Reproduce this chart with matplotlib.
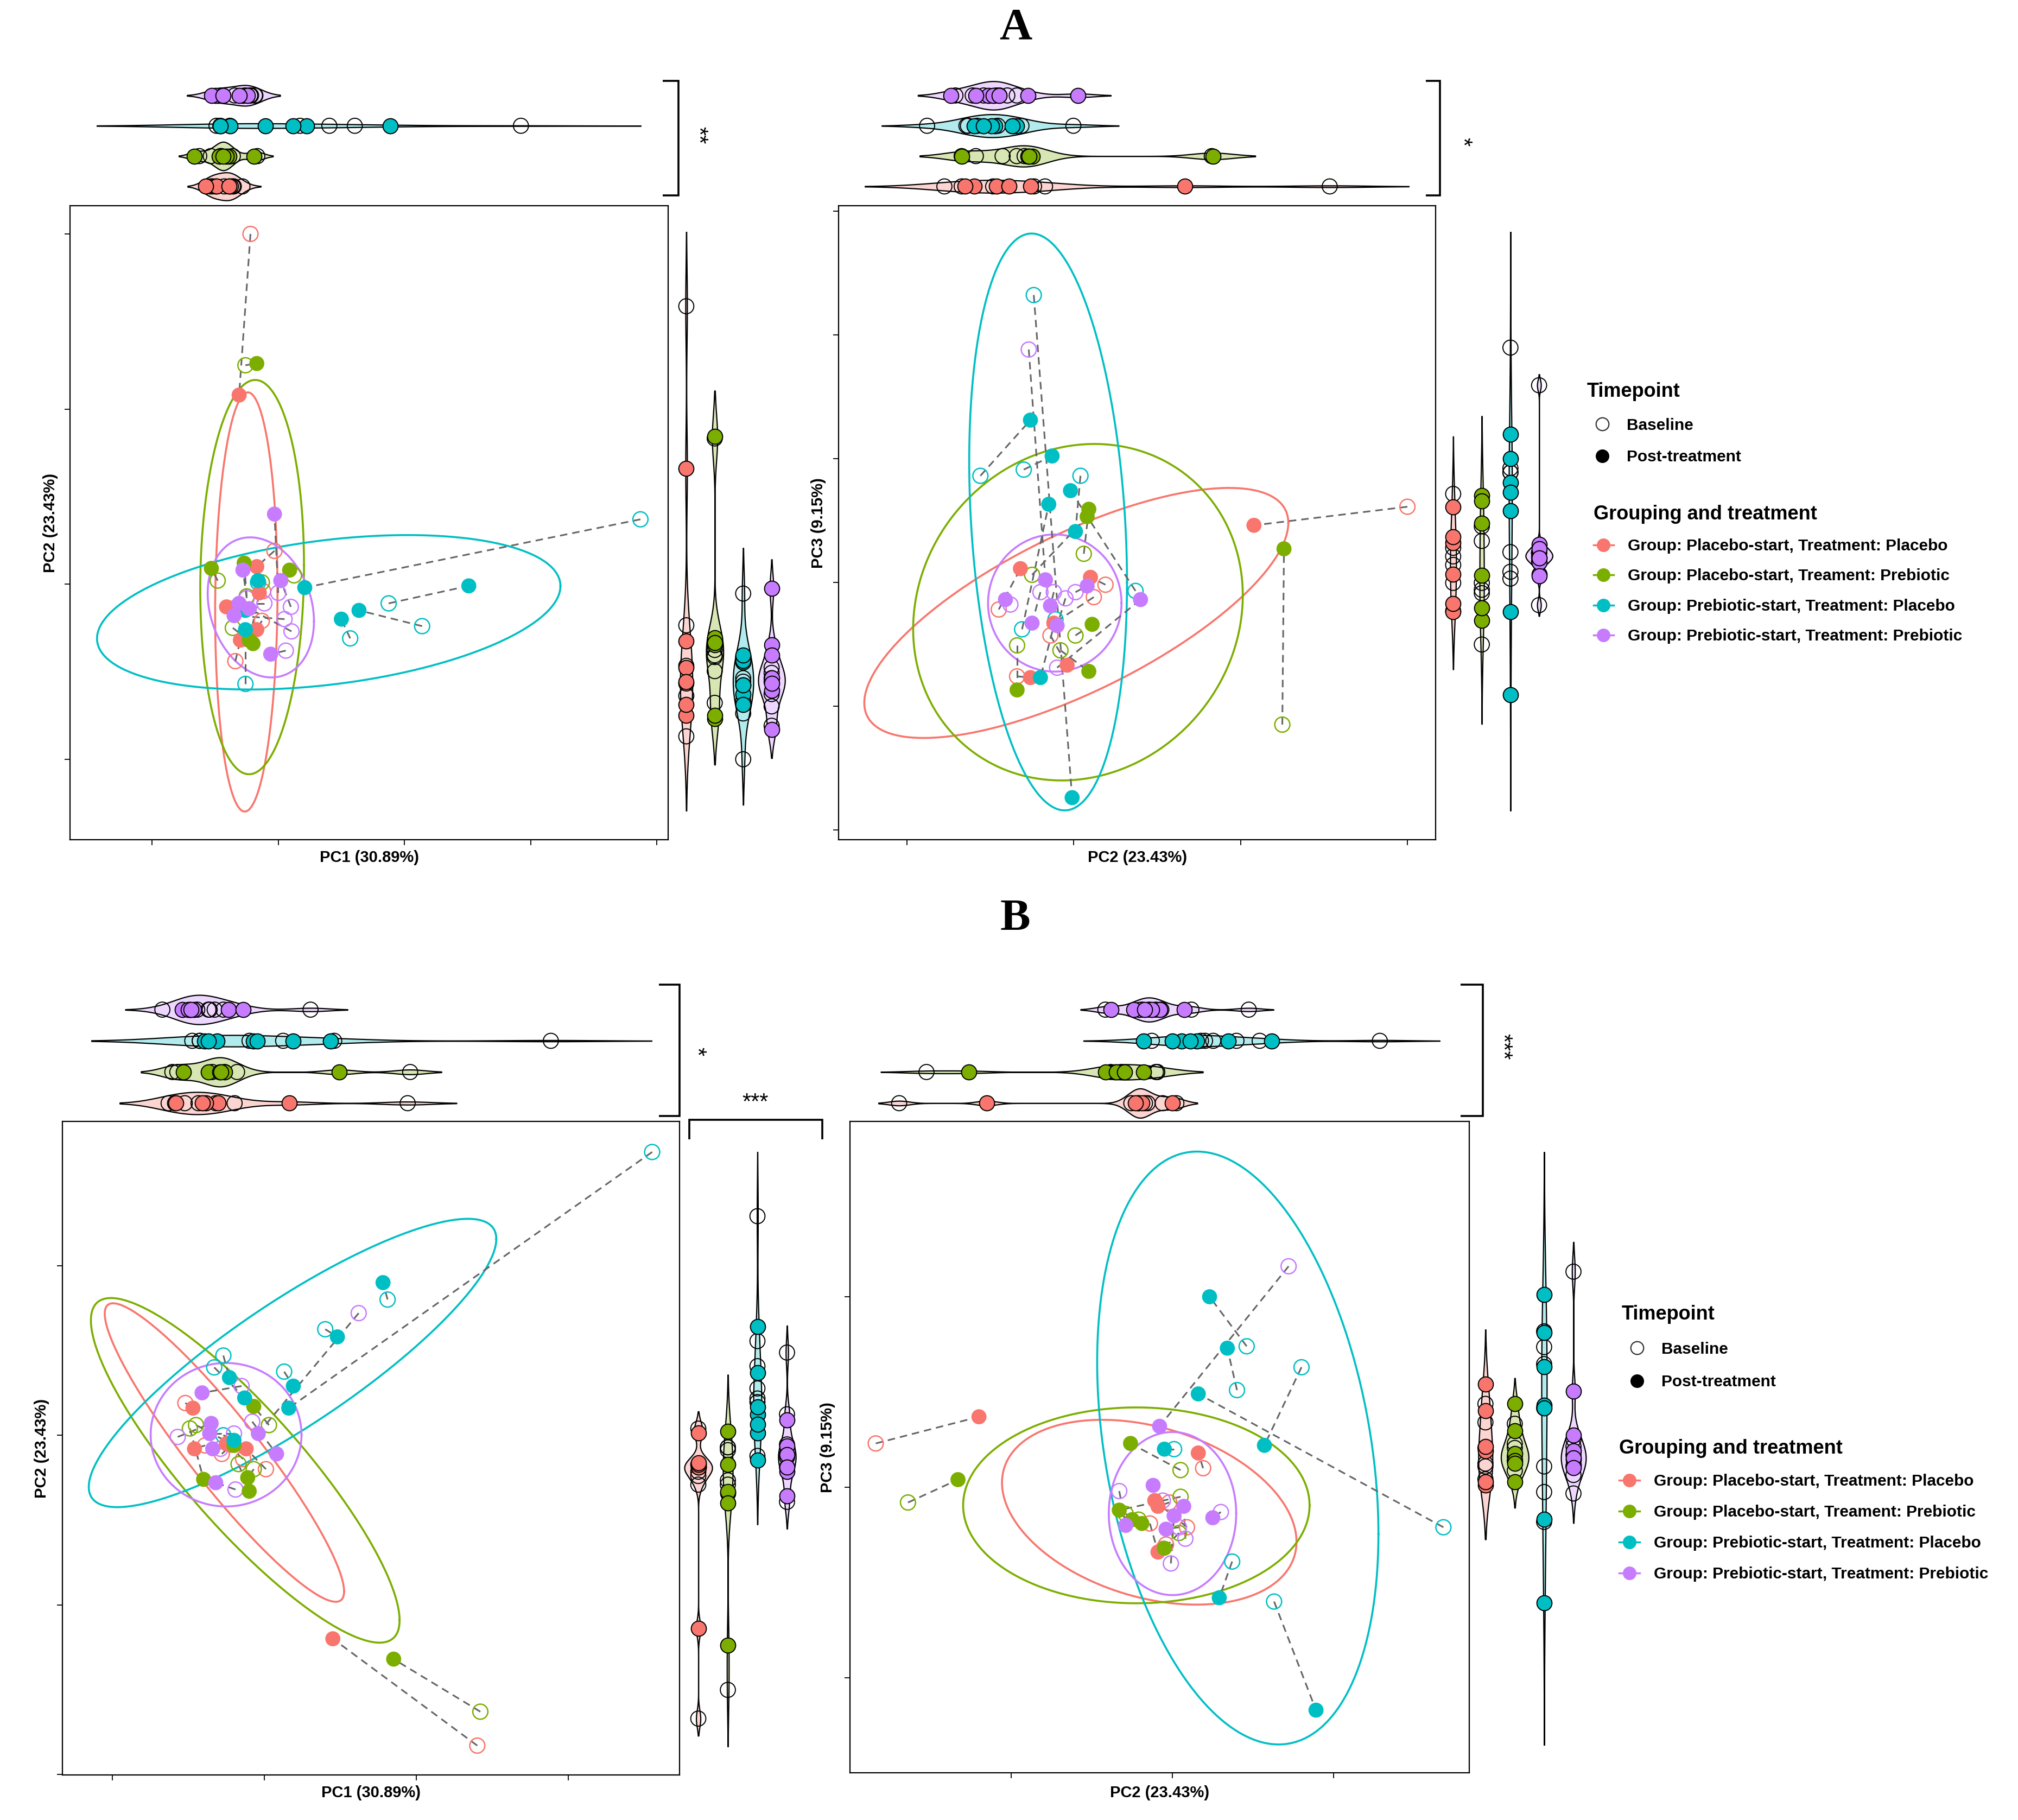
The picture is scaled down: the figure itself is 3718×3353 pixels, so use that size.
import numpy as np
import matplotlib
matplotlib.use("Agg")
import matplotlib.pyplot as plt
from matplotlib.lines import Line2D

plt.rcParams['font.family'] = ['Liberation Sans', 'DejaVu Sans']

# layout grid (reference picture scaled to 1568 x 1414)
W, H = 1568.0, 1414.0

GROUPS = ["Group: Placebo-start, Treatment: Placebo",
          "Group: Placebo-start, Treament: Prebiotic",
          "Group: Prebiotic-start, Treatment: Placebo",
          "Group: Prebiotic-start, Treatment: Prebiotic"]
COLORS = ["#F8766D", "#7CAE00", "#00BFC4", "#C77CFF"]
TIMEPOINTS = ["Baseline", "Post-treatment"]

# each row = one subject: (baseline x, baseline y, post x, post y)
# panel A left: PC1 vs PC2
A1_PLA_PLA = [(-0.22, 2.00, -0.31, 1.08), (-0.03, 0.19, -0.17, 0.10), (-0.34, -0.44, -0.30, -0.32),
              (-0.12, -0.04, -0.15, -0.05), (-0.36, -0.14, -0.41, -0.13), (-0.13, -0.21, -0.17, -0.26)]
A1_PLA_PRE = [(-0.26, 1.25, -0.17, 1.26), (0.125, 0.05, 0.09, 0.08), (-0.36, -0.25, -0.20, -0.34),
              (-0.25, -0.07, -0.27, 0.12), (-0.48, 0.02, -0.53, 0.09), (-0.13, 0.01, -0.23, -0.32)]
A1_PRE_PLA = [(2.87, 0.37, 0.21, -0.02), (0.875, -0.11, 1.51, -0.01), (1.14, -0.24, 0.64, -0.15),
              (0.57, -0.31, 0.50, -0.20), (-0.26, -0.57, -0.26, -0.26), (-0.16, 0.01, -0.16, 0.02),
              (-0.30, -0.13, -0.26, -0.15)]
A1_PRE_PRE = [(0.00, -0.05, -0.03, 0.40), (-0.25, -0.08, -0.28, 0.08), (0.10, -0.13, 0.02, 0.02),
              (-0.11, -0.11, -0.31, -0.11), (0.05, -0.20, -0.35, -0.18), (0.06, -0.38, -0.06, -0.40),
              (0.105, -0.27, -0.23, -0.14)]

# panel A right: PC2 vs PC3
A2_PLA_PLA = [(2.00, 0.61, 1.08, 0.46), (0.19, -0.02, 0.10, 0.04), (-0.34, -0.76, -0.26, -0.77),
              (0.12, -0.12, -0.12, -0.33), (-0.45, -0.22, -0.32, 0.11), (-0.14, -0.43, -0.04, -0.67)]
A2_PLA_PRE = [(1.25, -1.15, 1.26, 0.27), (0.06, 0.23, 0.09, 0.59), (-0.25, 0.06, 0.08, 0.53),
              (0.01, -0.43, 0.11, -0.34), (-0.34, -0.51, -0.34, -0.87), (-0.08, -0.55, 0.09, -0.72)]
A2_PRE_PLA = [(-0.24, 2.32, -0.01, -1.74), (-0.56, 0.86, -0.26, 1.31), (-0.30, 0.91, -0.13, 1.02),
              (0.04, 0.86, 0.01, 0.41), (0.37, -0.07, -0.02, 0.74), (-0.31, -0.38, -0.15, 0.63),
              (-0.11, -0.30, -0.20, -0.77)]
A2_PRE_PRE = [(-0.27, 1.88, -0.17, 0.02), (-0.38, -0.18, -0.41, -0.14), (-0.20, -0.08, -0.25, -0.33),
              (-0.12, -0.08, -0.14, -0.19), (-0.05, -0.13, -0.10, -0.35), (0.01, -0.08, 0.08, -0.03),
              (-0.10, -0.69, 0.40, -0.14)]

# panel B left: PC1 vs PC2
B1_PLA_PLA = [(1.40, -1.83, 0.45, -1.20), (-0.52, 0.19, -0.47, 0.16), (0.01, -0.20, -0.12, -0.08),
              (-0.39, -0.06, -0.46, -0.08), (-0.28, -0.11, -0.22, -0.06), (-0.14, -0.14, -0.25, -0.05)]
B1_PLA_PRE = [(1.42, -1.63, 0.85, -1.32), (0.03, 0.06, -0.07, 0.17), (-0.49, 0.04, -0.40, -0.26),
              (-0.45, 0.06, -0.20, -0.06), (-0.07, -0.20, -0.11, -0.25), (-0.17, -0.17, -0.10, -0.33)]
B1_PRE_PLA = [(2.55, 1.67, 0.16, 0.16), (0.81, 0.80, 0.78, 0.90), (0.40, 0.625, 0.48, 0.58),
              (0.13, 0.375, 0.19, 0.29), (-0.27, 0.47, -0.23, 0.34), (-0.33, 0.40, -0.13, 0.22),
              (-0.27, 0.00, -0.20, -0.03)]
B1_PRE_PRE = [(0.62, 0.72, -0.04, 0.01), (-0.15, 0.29, -0.41, 0.25), (-0.57, -0.01, -0.35, 0.07),
              (-0.20, 0.01, -0.36, 0.01), (-0.08, 0.08, 0.08, -0.11), (-0.19, -0.32, -0.32, -0.28),
              (-0.29, -0.08, -0.34, -0.08)]

# panel B right: PC2 vs PC3
B2_PLA_PLA = [(-1.84, 0.23, -1.20, 0.37), (0.19, 0.10, 0.16, 0.18), (-0.02, -0.08, -0.09, -0.10),
              (-0.14, -0.19, -0.09, -0.34), (-0.04, -0.30, -0.06, -0.32), (0.09, -0.21, -0.11, -0.07)]
B2_PLA_PRE = [(-1.64, -0.08, -1.33, 0.04), (0.05, 0.09, -0.26, 0.23), (0.05, -0.05, -0.33, -0.12),
              (-0.21, -0.17, -0.25, -0.17), (0.04, -0.24, -0.05, -0.32), (-0.29, -0.14, -0.19, -0.19)]
B2_PRE_PLA = [(0.46, 0.74, 0.23, 1.00), (0.40, 0.51, 0.34, 0.73), (1.68, -0.21, 0.16, 0.49),
              (0.80, 0.63, 0.57, 0.22), (0.37, -0.39, 0.29, -0.58), (0.63, -0.60, 0.89, -1.17),
              (0.01, 0.20, -0.05, 0.20)]
B2_PRE_PRE = [(0.72, 1.16, -0.08, 0.32), (-0.33, -0.02, -0.29, -0.20), (0.30, -0.13, 0.25, -0.16),
              (0.08, -0.27, 0.07, -0.10), (-0.01, -0.40, 0.01, -0.15), (-0.06, -0.07, -0.12, 0.01),
              (0.04, -0.21, -0.04, -0.22)]

# group ellipses: centre x, centre y, half width, half height, correlation
A1_ELL = [(-0.253, -0.102, 0.247, 1.197, 0.05), (-0.207, 0.040, 0.411, 1.126, 0.06),
          (0.40, -0.161, 1.836, 0.441, 0.34), (-0.138, -0.133, 0.421, 0.40, -0.2)]
A2_ELL = [(0.015, -0.248, 1.271, 1.01, 0.72), (0.025, -0.242, 0.988, 1.359, 0.10),
          (-0.154, 0.487, 0.473, 2.33, -0.21), (-0.114, -0.168, 0.40, 0.554, 0.0)]
B1_ELL = [(-0.263, -0.102, 0.787, 0.88, -0.93), (-0.126, -0.207, 1.015, 1.016, -0.87),
          (0.185, 0.426, 1.34, 0.85, 0.86), (-0.252, 0.003, 0.496, 0.423, 0.0)]
B2_ELL = [(-0.144, -0.131, 0.913, 0.485, -0.32), (-0.224, -0.095, 1.074, 0.514, 0.0),
          (0.405, 0.206, 0.872, 1.556, -0.29), (0.0, -0.138, 0.395, 0.428, 0.0)]

A1 = [A1_PLA_PLA, A1_PLA_PRE, A1_PRE_PLA, A1_PRE_PRE]
A2 = [A2_PLA_PLA, A2_PLA_PRE, A2_PRE_PLA, A2_PRE_PRE]
B1 = [B1_PLA_PLA, B1_PLA_PRE, B1_PRE_PLA, B1_PRE_PRE]
B2 = [B2_PLA_PLA, B2_PLA_PRE, B2_PRE_PLA, B2_PRE_PRE]


def rect(x0, y0, x1, y1):
    return [x0 / W, 1 - y1 / H, (x1 - x0) / W, (y1 - y0) / H]


def ellipse_xy(cx, cy, rx, ry, rho):
    t = np.linspace(0, 2 * np.pi, 300)
    return cx + rx * np.cos(t), cy + ry * (rho * np.cos(t) + np.sqrt(1 - rho ** 2) * np.sin(t))


def kde(v, adjust=1.5):
    # gaussian kernel, bw.nrd0 * adjust; tails run 3 plain bandwidths past the data
    v = np.asarray(v, float)
    sd = v.std(ddof=1)
    iqr = np.percentile(v, 75) - np.percentile(v, 25)
    lo = min(sd, iqr / 1.34) if iqr > 0 else sd
    bw = 0.9 * lo * len(v) ** -0.2
    g = np.linspace(v.min() - 3 * bw, v.max() + 3 * bw, 512)
    bw = bw * adjust
    d = np.exp(-0.5 * ((g[:, None] - v[None, :]) / bw) ** 2).sum(1) / (len(v) * bw * np.sqrt(2 * np.pi))
    return g, d


def draw_main(ax, panel, ells, xlim, ylim, xticks, yticks, xlabel, ylabel, xl_y, yl_x):
    for i, e in enumerate(ells):
        ax.plot(*ellipse_xy(*e), color=COLORS[i], lw=2.6, zorder=1)
    for grp in panel:
        for bx, by, px, py in grp:
            ax.plot([bx, px], [by, py], ls=(0, (4.5, 3)), color='#666666', lw=2.2, zorder=2)
    for i, grp in enumerate(panel):
        g = np.array(grp)
        ax.scatter(g[:, 0], g[:, 1], s=400, facecolors='none', edgecolors=COLORS[i], linewidths=1.8, zorder=3)
        ax.scatter(g[:, 2], g[:, 3], s=400, color=COLORS[i], edgecolors='none', zorder=4)
    ax.set_xlim(xlim)
    ax.set_ylim(ylim)
    ax.set_xticks(xticks)
    ax.set_yticks(yticks)
    ax.tick_params(direction='out', length=7, width=1.3, labelleft=False, labelbottom=False)
    for s in ax.spines.values():
        s.set_linewidth(1.6)
    ax.set_xlabel(xlabel, fontsize=21, fontweight='bold')
    ax.set_ylabel(ylabel, fontsize=21, fontweight='bold')
    ax.xaxis.set_label_coords(0.5, xl_y)
    ax.yaxis.set_label_coords(yl_x, 0.5)


def draw_margin(ax, panel, col, orient):
    vals = [np.array([r[col] for r in grp] + [r[col + 2] for r in grp]) for grp in panel]
    dens = [kde(v) for v in vals]
    dmax = max(d.max() for _, d in dens)
    for i, (grp, (g, d)) in enumerate(zip(panel, dens)):
        pos = i + 1
        hw = 0.47 * d / dmax
        base = [r[col] for r in grp]
        post = [r[col + 2] for r in grp]
        if orient == 'h':
            ax.fill_between(g, pos - hw, pos + hw, facecolor=(COLORS[i], 0.3), edgecolor='black', lw=1.6)
            ax.scatter(base, [pos] * len(base), s=400, facecolors='none', edgecolors='black', linewidths=1.4, zorder=3)
            ax.scatter(post, [pos] * len(post), s=400, facecolors=COLORS[i], edgecolors='black', linewidths=1.4, zorder=3)
        else:
            ax.fill_betweenx(g, pos - hw, pos + hw, facecolor=(COLORS[i], 0.3), edgecolor='black', lw=1.6)
            ax.scatter([pos] * len(base), base, s=400, facecolors='none', edgecolors='black', linewidths=1.4, zorder=3)
            ax.scatter([pos] * len(post), post, s=400, facecolors=COLORS[i], edgecolors='black', linewidths=1.4, zorder=3)
    lo = min(g.min() for g, _ in dens)
    hi = max(g.max() for g, _ in dens)
    if orient == 'h':
        ax.set_xlim(lo, hi)
        ax.set_ylim(0.5, 4.5)
    else:
        ax.set_ylim(lo, hi)
        ax.set_xlim(0.5, 4.5)
    ax.axis('off')


fig = plt.figure(figsize=(37.18, 33.53), dpi=100)

# main scatter panels
ax = fig.add_axes(rect(54.4, 160, 519.2, 652.4))
draw_main(ax, A1, A1_ELL, (-1.65, 3.09), (-1.46, 2.16), [-1, 0, 1, 2, 3], [-1, 0, 1, 2],
          "PC1 (30.89%)", "PC2 (23.43%)", -0.016, -0.02)
ax = fig.add_axes(rect(651.6, 160, 1115.6, 652.4))
draw_main(ax, A2, A2_ELL, (-1.41, 2.17), (-2.08, 3.04), [-1, 0, 1, 2], [-2, -1, 0, 1, 2, 3],
          "PC2 (23.43%)", "PC3 (9.15%)", -0.016, -0.021)
ax = fig.add_axes(rect(48.3, 871.3, 528, 1379))
draw_main(ax, B1, B1_ELL, (-1.33, 2.73), (-2.003, 1.85), [-1, 0, 1, 2], [-2, -1, 0, 1],
          "PC1 (30.89%)", "PC2 (23.43%)", -0.016, -0.021)
ax = fig.add_axes(rect(660.4, 871.3, 1141.6, 1377.5))
draw_main(ax, B2, B2_ELL, (-2.0, 1.84), (-1.5, 1.92), [-1, 0, 1], [-1, 0, 1],
          "PC2 (23.43%)", "PC3 (9.15%)", -0.019, -0.024)

# marginal violins
draw_margin(fig.add_axes(rect(75, 62.4, 498, 156.6)), A1, 0, 'h')
draw_margin(fig.add_axes(rect(522.2, 180, 610.6, 630)), A1, 1, 'v')
draw_margin(fig.add_axes(rect(672, 62.4, 1095, 156.6)), A2, 0, 'h')
draw_margin(fig.add_axes(rect(1118, 180, 1207, 630)), A2, 1, 'v')
draw_margin(fig.add_axes(rect(70.9, 772.3, 506.5, 869.2)), B1, 0, 'h')
draw_margin(fig.add_axes(rect(531.1, 895, 623, 1357)), B1, 1, 'v')
draw_margin(fig.add_axes(rect(682.4, 772.3, 1118.8, 869.2)), B2, 0, 'h')
draw_margin(fig.add_axes(rect(1142.8, 895, 1234, 1356)), B2, 1, 'v')


# significance brackets
def bracket(xs, ys):
    fig.add_artist(Line2D(np.array(xs) / W, 1 - np.array(ys) / H, color='black', lw=2.6,
                          solid_joinstyle='miter', solid_capstyle='butt'))


def stars(x, y, s, rot):
    fig.text(x / W, 1 - y / H, s, rotation=rot, ha='center', va='center', fontsize=30)


bracket([515, 527, 527, 515], [63, 63, 152, 152])
stars(542, 105, "**", 270)
bracket([1108, 1119, 1119, 1108], [63, 63, 152, 152])
stars(1136, 110, "*", 270)
bracket([512, 528, 528, 512], [765, 765, 867, 867])
stars(541, 817, "*", 270)
bracket([535.6, 535.6, 639, 639], [885, 870, 870, 885])
stars(587, 857, "***", 0)
bracket([1135, 1152, 1152, 1135], [765, 765, 867, 867])
stars(1167, 813, "***", 270)

fig.text(789 / W, 1 - 22 / H, "A", fontsize=60, fontweight='bold', family='Liberation Serif', ha='center', va='center')
fig.text(789 / W, 1 - 714 / H, "B", fontsize=60, fontweight='bold', family='Liberation Serif', ha='center', va='center')

# legends
tp_handles = [Line2D([0], [0], ls='none', marker='o', markersize=17, mfc='none', mec='#333333', mew=1.6),
              Line2D([0], [0], ls='none', marker='o', markersize=17, mfc='black', mec='black')]
grp_handles = [Line2D([0], [0], color=c, lw=2.5, marker='o', markersize=17) for c in COLORS]


def add_legend(x, y, title, handles, labels, lsp, hl, htp):
    fig.legend(handles, labels, loc='upper left', bbox_to_anchor=(x / W, 1 - y / H),
               bbox_transform=fig.transFigure, frameon=False, borderpad=0, borderaxespad=0,
               title=title, title_fontproperties={'size': 26, 'weight': 'bold'},
               prop={'size': 21.5, 'weight': 'bold'}, labelspacing=lsp, handlelength=hl,
               handletextpad=htp, alignment='left')


add_legend(1233, 297, "Timepoint", tp_handles, TIMEPOINTS, 1.02, 1.9, 0.55)
add_legend(1238, 392, "Grouping and treatment", grp_handles, GROUPS, 0.92, 1.27, 0.87)
add_legend(1260, 1014, "Timepoint", tp_handles, TIMEPOINTS, 1.08, 1.9, 0.55)
add_legend(1258, 1118, "Grouping and treatment", grp_handles, GROUPS, 0.97, 1.27, 0.87)

fig.savefig("out.png", dpi=100)
